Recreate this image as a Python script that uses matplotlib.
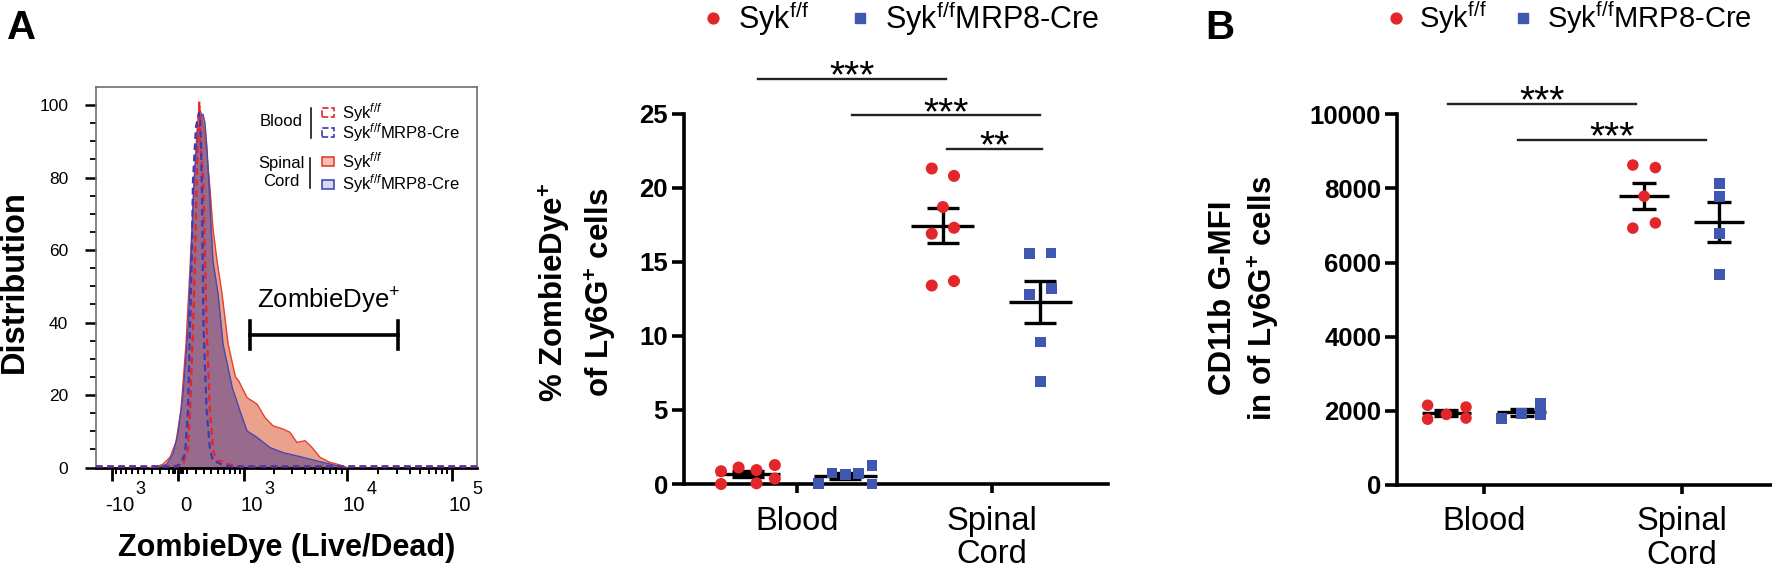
import numpy as np
import matplotlib
matplotlib.use('Agg')
import matplotlib.pyplot as plt
from matplotlib.patches import Rectangle
from matplotlib.lines import Line2D
from matplotlib.transforms import ScaledTranslation

plt.rcParams['font.family'] = ['Liberation Sans', 'DejaVu Sans']
plt.rcParams['mathtext.fontset'] = 'custom'
plt.rcParams['mathtext.rm'] = 'Liberation Sans'
plt.rcParams['mathtext.it'] = 'Liberation Sans:italic'
plt.rcParams['mathtext.bf'] = 'Liberation Sans:bold'

RED = '#E3262A'
BLUE = '#3F57B1'

# --- Panel A, histogram: ZombieDye intensity vs % of max
blood_wt_x = [-1460, 0, 55, 110, 133, 167, 190, 210, 232, 242, 254, 291, 313, 335, 379, 426, 476, 555, 639, 772, 906, 173000]
blood_wt_y = [0.3, 0.3, 0.9, 5, 15.6, 38, 57, 79, 95, 101, 90, 79, 57, 38, 15.6, 4.6, 1.8, 1.8, 1.1, 0.5, 0.3, 0.3]
blood_cre_x = [-1460, -33, 22, 77, 110, 133, 152, 167, 202, 238, 250, 262, 275, 284, 294, 335, 379, 421, 481, 577, 704, 173000]
blood_cre_y = [0.3, 0.3, 0.9, 3.7, 15.6, 38.6, 57, 79, 94, 97.8, 97, 90, 75, 57, 38.6, 15.6, 5, 1.8, 1.4, 0.7, 0.3, 0.3]
sc_wt_x = [-326, -238, -167, -88, -22, 33, 88, 133, 179, 214, 238, 262, 300, 339, 379, 421, 481, 559, 666, 807, 873,
           1076, 1364, 1638, 1966, 2462, 2879, 3351, 4010, 4680, 5579, 6945, 8645, 10080]
sc_wt_y = [0, 0.3, 0.9, 2.8, 7, 16, 34, 55, 78, 93, 99, 98, 93, 86, 77, 66, 57, 48, 34, 25, 24,
           19.3, 17.5, 13.8, 11.5, 10.6, 9.7, 6.9, 7.4, 5.5, 2.8, 1.4, 0.7, 0]
sc_cre_x = [-262, -202, -122, -55, 0, 55, 110, 144, 179, 226, 262, 287, 313, 339, 366, 393, 421, 496, 577, 744,
            906, 1076, 1364, 1838, 2462, 3351, 4479, 5958, 8096, 9646]
sc_cre_y = [0, 0.2, 0.9, 3.7, 9.2, 20, 38, 57, 79, 93, 97, 97.5, 95, 88, 78, 67, 57, 48, 34, 22,
            15.6, 10.1, 8.3, 5.5, 4.1, 3.2, 2.3, 1.4, 0.5, 0]
gate_lo, gate_hi, gate_y = 1157, 30800, 36.6
x_major = [-1000, 0, 1000, 10000, 100000]
x_base = ['-10', '0', '10', '10', '10']
x_exp = ['3', '', '3', '4', '5']

# --- Panel A, scatter: % ZombieDye+ of Ly6G+ cells
categories = ['Blood', 'Spinal\nCord']
zd_blood_wt = [0.86, 0.0, 1.11, 0.94, 0.05, 1.28, 0.37]
zd_blood_cre = [0.05, 0.74, 0.62, 0.69, 1.24, 0.0]
zd_sc_wt = [21.3, 20.8, 18.7, 16.9, 17.3, 13.4, 13.7]
zd_sc_cre = [15.55, 15.6, 12.8, 13.2, 9.58, 6.93]

# --- Panel B: CD11b G-MFI in Ly6G+ cells
mfi_blood_wt = [2148, 1772, 1901, 2099, 1802]
mfi_blood_cre = [1802, 1921, 2198, 1901]
mfi_sc_wt = [8633, 8564, 7791, 6930, 7069]
mfi_sc_cre = [8138, 7772, 6782, 5683]

# point spread inside each group (layout only)
jit_zd = [[-0.138, -0.138, -0.048, 0.044, 0.044, 0.138, 0.138],
          [-0.137, -0.068, 0, 0.068, 0.137, 0.137],
          [-0.057, 0.057, 0, -0.057, 0.057, -0.057, 0.057],
          [-0.056, 0.055, -0.056, 0.056, 0, 0]]
jit_mfi = [[-0.095, -0.095, 0, 0.099, 0.099],
           [-0.1, 0, 0.097, 0.097],
           [-0.057, 0.057, 0, -0.057, 0.057],
           [0, 0, 0, 0]]

W, H = 1772, 575
fig = plt.figure(figsize=(W / 100, H / 100), dpi=100)


def box(l, t, r, b):
    return [l / W, 1 - b / H, (r - l) / W, (b - t) / H]


# ================= Panel A histogram =================
axA = fig.add_axes(box(96, 87, 477, 467.5))


def fwd(v):
    return np.arcsinh(np.asarray(v, float) / 500.0)


def inv(u):
    return 500.0 * np.sinh(u)


axA.set_xscale('function', functions=(fwd, inv))
axA.fill_between(sc_wt_x, sc_wt_y, color='#EBA28C', lw=0, zorder=1)
axA.fill_between(sc_cre_x, sc_cre_y, color='#46358F', alpha=0.5, lw=0, zorder=2)
axA.plot(sc_wt_x, sc_wt_y, color='#E5402E', lw=1.0, zorder=3)
axA.plot(sc_cre_x, sc_cre_y, color='#4848B0', lw=1.0, zorder=3)
axA.plot(blood_wt_x, blood_wt_y, color='#E8232A', lw=1.6, ls=(0, (3, 2)), zorder=4)
axA.plot(blood_cre_x, blood_cre_y, color='#3A3AB8', lw=1.6, ls=(0, (3, 2)), zorder=4)
axA.set_xlim(-1460, 173000)
axA.set_ylim(0, 105)

# gate
axA.plot([gate_lo, gate_hi], [gate_y, gate_y], color='k', lw=2.6, zorder=5)
for gx in (gate_lo, gate_hi):
    axA.plot([gx, gx], [gate_y - 3.9, gate_y + 3.9], color='k', lw=2.6, zorder=5)
axA.text(1354, 44, 'ZombieDye$^{+}$', fontsize=18.5, ha='left', va='baseline')

axA.set_xticks(x_major)
axA.set_xticklabels([])
minor = ([-v for v in range(100, 1000, 100)] + [-60, -30, 30, 60] +
         list(range(100, 1000, 100)) + list(range(2000, 10000, 1000)) + list(range(20000, 100000, 10000)))
axA.set_xticks(minor, minor=True)
axA.set_yticks(range(0, 101, 20))
axA.set_yticks(range(0, 105, 5), minor=True)
axA.tick_params(axis='x', which='major', length=9.5, width=2.0)
axA.tick_params(axis='x', which='minor', length=4.5, width=1.4)
axA.tick_params(axis='y', which='major', length=8, width=1.8, labelsize=12.5, pad=12)
axA.tick_params(axis='y', which='minor', length=4.3, width=1.3)
# tick labels written as base + raised, nearly full-size exponent (as in the original)
exp_dx = [17, 0, 14.5, 14.5, 14.5]
for xv, base, ex, dx in zip(x_major, x_base, x_exp, exp_dx):
    axA.annotate(base, xy=(xv, 0), xycoords=('data', 'axes fraction'), xytext=(5.4, -27.7),
                 textcoords='offset points', ha='center', va='center', fontsize=14.6,
                 annotation_clip=False)
    if ex:
        axA.annotate(ex, xy=(xv, 0), xycoords=('data', 'axes fraction'),
                     xytext=(dx, -15.8), textcoords='offset points', ha='left', va='center',
                     fontsize=13, annotation_clip=False)
for side in ('top', 'right', 'left'):
    axA.spines[side].set_color('#6E6E6E')
    axA.spines[side].set_linewidth(1.2)
axA.spines['bottom'].set_linewidth(2.0)

# legend inside histogram
T = axA.transAxes
sw, sh = 12 / 381, 9 / 380
entries = [(0.933, dict(fill=False, ec='#E8232A', ls='--')),
           (0.880, dict(fill=False, ec='#3A3AB8', ls='--')),
           (0.804, dict(fc='#F6BDB3', ec='#E5402E')),
           (0.745, dict(fc='#D6D9EF', ec='#4848B0'))]
labs = ['Syk$^{f/f}$', 'Syk$^{f/f}$MRP8-Cre', 'Syk$^{f/f}$', 'Syk$^{f/f}$MRP8-Cre']
for (yc, kw), lab in zip(entries, labs):
    axA.add_patch(Rectangle((0.609 - sw / 2, yc - sh / 2), sw, sh, transform=T, lw=1.2, zorder=6, **kw))
    axA.text(0.645, yc, lab, transform=T, fontsize=12, va='center', ha='left')
axA.text(0.543, 0.909, 'Blood', transform=T, fontsize=12, va='center', ha='right')
axA.plot([0.5635, 0.5635], [0.866, 0.945], transform=T, color='k', lw=1.1)
axA.text(0.487, 0.775, 'Spinal\nCord', transform=T, fontsize=12, va='center', ha='center', linespacing=1.2)
axA.plot([0.5617, 0.5617], [0.734, 0.813], transform=T, color='k', lw=1.1)

fig.text(14 / W, 1 - 282 / H, 'Distribution', rotation=90, fontsize=23.5, fontweight='bold',
         ha='center', va='center')
fig.text(286.7 / W, 1 - 548 / H, 'ZombieDye (Live/Dead)', fontsize=22, fontweight='bold',
         ha='center', va='center')


# ================= scatter panels =================
def dot_panel(ax, groups, jits, off, hw, cap, ms):
    centers = [-off, off, 1 - off, 1 + off]
    colors = [RED, BLUE, RED, BLUE]
    marks = ['o', 's', 'o', 's']
    for vals, jit, xc, col, mk in zip(groups, jits, centers, colors, marks):
        vals = np.asarray(vals, float)
        m = vals.mean()
        sem = vals.std(ddof=1) / np.sqrt(len(vals))
        ax.hlines(m, xc - hw, xc + hw, color='k', lw=2.4, zorder=3)
        ax.errorbar(xc, m, yerr=sem, fmt='none', ecolor='k', elinewidth=2.4, capsize=cap,
                    capthick=2.4, zorder=3)
        ax.scatter(xc + np.asarray(jit), vals, marker=mk, s=ms[mk], color=col, edgecolors='none',
                   zorder=5, clip_on=False)
    ax.set_xticks([0, 1])
    ax.set_xticklabels(categories, fontsize=23.5, linespacing=1.1)
    for s in ('top', 'right'):
        ax.spines[s].set_visible(False)
    for s in ('left', 'bottom'):
        ax.spines[s].set_linewidth(2.6)
    ax.tick_params(axis='y', length=8.6, width=2.6, labelsize=18.5, pad=3)
    ax.tick_params(axis='x', length=6.5, width=2.6, pad=9)


def sig(ax, x1, x2, y, stars, dy):
    ax.plot([x1, x2], [y, y], color='#222222', lw=1.7, clip_on=False)
    ax.annotate(stars, ((x1 + x2) / 2, y), xytext=(0, dy), textcoords='offset points',
                ha='center', va='baseline', fontsize=28, annotation_clip=False)


def legend(ax, x, y, colsp, fs):
    hs = [Line2D([], [], marker='o', ls='', color=RED, ms=7.8),
          Line2D([], [], marker='s', ls='', color=BLUE, ms=7.2)]
    ax.legend(hs, ['Syk$^{\\mathrm{f/f}}$', 'Syk$^{\\mathrm{f/f}}$MRP8-Cre'], ncol=2, loc='center left',
              bbox_to_anchor=(x, y), frameon=False, fontsize=fs, handlelength=0.8, handletextpad=0.4,
              columnspacing=colsp, borderpad=0, borderaxespad=0)


axZ = fig.add_axes(box(684, 113.7, 1108, 484))
dot_panel(axZ, [zd_blood_wt, zd_blood_cre, zd_sc_wt, zd_sc_cre], jit_zd, 0.25, 0.162, 11.5,
          {'o': 75, 's': 59})
axZ.set_xlim(-0.578, 1.597)
axZ.set_ylim(0, 25)
axZ.set_yticks(range(0, 26, 5))
for lbl in axZ.get_yticklabels():
    lbl.set_fontweight('bold')
sig(axZ, -0.2, 0.765, 27.36, '***', -6.5)
sig(axZ, 0.282, 1.248, 24.88, '***', -6.5)
sig(axZ, 0.769, 1.26, 22.65, '**', -6.5)
legend(axZ, 0.040, 1.258, 1.3, 22)
fig.text(577.5 / W, 1 - 292 / H, '% ZombieDye$^{\\mathbf{+}}$\nof Ly6G$^{\\mathbf{+}}$ cells', rotation=90,
         fontsize=22.5, fontweight='bold', ha='center', va='center', multialignment='center',
         linespacing=1.35)

axB = fig.add_axes(box(1397.3, 114.4, 1772, 484.8))
dot_panel(axB, [mfi_blood_wt, mfi_blood_cre, mfi_sc_wt, mfi_sc_cre], jit_mfi, 0.19, 0.126, 8.6,
          {'o': 69, 's': 62})
axB.set_xlim(-0.4385, 1.457)
axB.set_ylim(0, 10000)
axB.set_yticks(range(0, 10001, 2000))
for lbl in axB.get_yticklabels():
    lbl.set_fontweight('bold')
sig(axB, -0.18, 0.769, 10286, '***', -6)
sig(axB, 0.17, 1.123, 9306, '***', -6)
legend(axB, -0.035, 1.260, 0.85, 21)
fig.text(1245 / W, 1 - 298 / H, 'CD11b G-MFI\nin of Ly6G$^{\\mathbf{+}}$ cells', rotation=90,
         fontsize=22.5, fontweight='bold', ha='center', va='center', multialignment='center',
         linespacing=1.25)

fig.text(7 / W, 1 - 9 / H, 'A', fontsize=29, fontweight='bold', ha='left', va='top')
fig.text(1220 / W, 1 - 9 / H, 'B', fontsize=29, fontweight='bold', ha='center', va='top')

fig.savefig('out.png', dpi=100)
